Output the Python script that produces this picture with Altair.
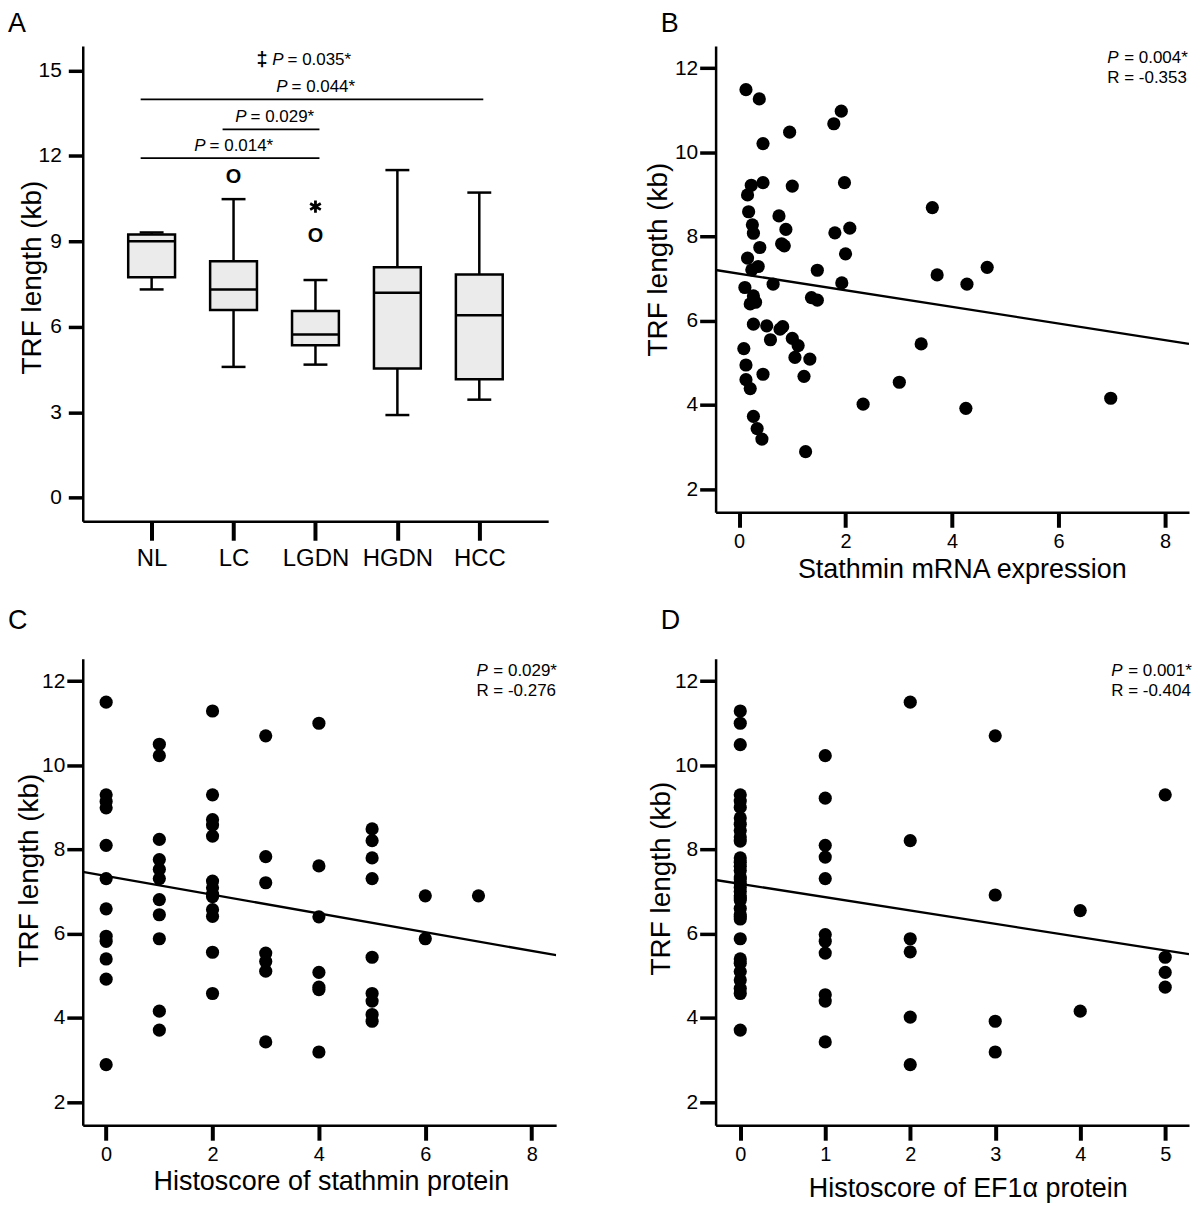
import altair as alt
import pandas as pd

FONT = "Liberation Sans"

# ---------------- Panel A : TRF length by group (box plots) ----------------
groups = ["NL", "LC", "LGDN", "HGDN", "HCC"]
whisker_low = [7.31, 4.59, 4.67, 2.90, 3.44]
box_q1 = [7.74, 6.59, 5.35, 4.53, 4.16]
box_median = [9.00, 7.31, 5.73, 7.19, 6.40]
box_q3 = [9.24, 8.30, 6.55, 8.09, 7.83]
whisker_high = [9.31, 10.48, 7.64, 11.50, 10.71]

outlier_group = ["LC", "LGDN", "LGDN"]
outlier_value = [11.29, 9.21, 10.22]
outlier_kind = ["circle", "circle", "extreme"]

sig_from = ["NL", "LC", "NL"]
sig_to = ["LGDN", "LGDN", "HCC"]
sig_level = [11.92, 12.93, 13.98]
sig_p = ["0.014*", "0.029*", "0.044*"]
overall_p = ["0.035*"]
overall_level = [15.36]

# ---------------- Panel B : stathmin mRNA vs TRF ----------------
stathmin_mrna = [0.13, 0.38, 1.92, 1.78, 0.95, 0.45, 0.16, 0.23, 0.45, 1.00, 1.98,
                 0.18, 0.75, 0.25, 0.27, 0.88, 3.63, 1.80, 2.08, 0.39, 0.80, 0.85,
                 2.00, 0.16, 0.36, 0.24, 1.47, 4.66, 3.72, 0.64, 1.93, 4.28, 0.11,
                 1.36, 1.47, 0.27, 0.31, 0.21, 0.27, 0.52, 0.59, 0.82, 0.77, 1.00,
                 1.11, 1.05, 1.33, 1.22, 0.09, 0.13, 0.13, 0.21, 0.45, 0.27, 0.34,
                 0.43, 1.25, 2.33, 3.01, 3.42, 4.26, 6.98]
trf_b = [11.49, 11.27, 10.98, 10.68, 10.48, 10.21, 8.99, 9.22, 9.28, 9.20, 9.28,
         8.59, 8.49, 8.28, 8.08, 8.17, 8.69, 8.09, 8.20, 7.74, 7.83, 7.78,
         7.59, 7.49, 7.29, 7.21, 7.20, 7.27, 7.09, 6.87, 6.90, 6.87, 6.79,
         6.55, 6.49, 6.59, 6.44, 6.40, 5.92, 5.88, 5.55, 5.86, 5.80, 5.58,
         5.41, 5.13, 5.09, 4.68, 5.34, 4.95, 4.60, 4.39, 4.73, 3.73, 3.44,
         3.19, 2.89, 4.02, 4.54, 5.45, 3.92, 4.16]

# ---------------- Panel C : stathmin histoscore vs TRF ----------------
histo_stathmin = ([0] * 12 + [1] * 11 + [2] * 13 + [3] * 7 + [4] * 7 + [5] * 9 + [6] * 2 + [7] * 1)
trf_c = [11.50, 9.30, 9.14, 8.99, 8.10, 7.31, 6.59, 5.94, 5.82, 5.40, 4.92, 2.89,
         10.50, 10.23, 8.24, 7.76, 7.53, 7.31, 6.81, 6.45, 5.88, 4.16, 3.71,
         11.29, 9.30, 8.71, 8.58, 8.32, 7.25, 7.09, 6.94, 6.88, 6.57, 6.41, 5.56, 4.58,
         10.70, 7.83, 7.21, 5.54, 5.34, 5.11, 3.43,
         11.00, 7.61, 6.40, 5.08, 4.73, 4.67, 3.19,
         8.49, 8.21, 7.80, 7.31, 5.44, 4.58, 4.40, 4.08, 3.92,
         6.90, 5.88,
         6.90]

# ---------------- Panel D : EF1a histoscore vs TRF ----------------
histo_ef1a = ([0] * 35 + [1] * 11 + [2] * 6 + [3] * 4 + [4] * 2 + [5] * 4)
trf_d = [11.29, 11.00, 10.49, 9.30, 9.15, 9.00, 8.75, 8.60, 8.45, 8.30, 8.20, 7.80,
         7.70, 7.60, 7.50, 7.35, 7.30, 7.20, 7.10, 7.00, 6.90, 6.85, 6.80, 6.60,
         6.45, 6.40, 6.35, 5.88, 5.40, 5.30, 5.10, 4.90, 4.70, 4.58, 3.71,
         10.23, 9.22, 8.10, 7.82, 7.31, 5.98, 5.82, 5.54, 4.55, 4.40, 3.43,
         11.50, 8.21, 5.88, 5.57, 4.02, 2.89,
         10.70, 6.92, 3.92, 3.19,
         6.55, 4.16,
         9.30, 5.44, 5.08, 4.73]

stats_p = ["0.004*", "0.029*", "0.001*"]
stats_r = ["-0.353", "-0.276", "-0.404"]

Y_TITLE = "TRF length (kb)"
ANN = 17  # annotation font size
ASTERISK = "M0,-1L0,1M-0.87,-0.5L0.87,0.5M-0.87,0.5L0.87,-0.5"


def text_layer(text, **kw):
    return alt.Chart(pd.DataFrame({"t": [text]})).mark_text(color="black", **kw).encode(text="t:N")


# ======================= Panel A =======================
pos_of = {g: i + 1 for i, g in enumerate(groups)}
dfA = pd.DataFrame({"group": groups, "pos": [pos_of[g] for g in groups],
                    "lo": whisker_low, "q1": box_q1, "med": box_median,
                    "q3": box_q3, "hi": whisker_high})
xA_scale = alt.Scale(domain=[0.22, 5.78], nice=False, zero=False)
yA_scale = alt.Scale(domain=[-0.83, 15.86], nice=False, zero=False)
label_expr = "[" + ",".join("'%s'" % g for g in groups) + "][datum.value - 1]"
axis_xA = alt.Axis(values=list(range(1, len(groups) + 1)), labelExpr=label_expr, title=None,
                   tickSize=19, tickWidth=4, labelFontSize=24, labelPadding=6,
                   labelFlush=False, grid=False)
axis_yA = alt.Axis(values=[0, 3, 6, 9, 12, 15], tickSize=14.5, tickWidth=3.5,
                   labelFontSize=21, labelPadding=7, labelFlush=False, title=Y_TITLE,
                   titleFontSize=28, titleX=-50, titleY=232, titleAngle=270,
                   titleBaseline="middle", titleAlign="center", grid=False)


def XA(field):
    return alt.X(field, type="quantitative", scale=xA_scale, axis=axis_xA)


def YA(field):
    return alt.Y(field, type="quantitative", scale=yA_scale, axis=axis_yA)


baseA = alt.Chart(dfA)
w_low = baseA.mark_rule(color="black", strokeWidth=2.5).encode(x=XA("pos"), y=YA("lo"), y2="q1:Q")
w_high = baseA.mark_rule(color="black", strokeWidth=2.5).encode(x=XA("pos"), y=YA("q3"), y2="hi:Q")
cap_low = baseA.mark_tick(orient="horizontal", size=24, thickness=2.5, color="black", opacity=1).encode(
    x=XA("pos"), y=YA("lo"))
cap_high = baseA.mark_tick(orient="horizontal", size=24, thickness=2.5, color="black", opacity=1).encode(
    x=XA("pos"), y=YA("hi"))
boxes = baseA.mark_bar(width=47, fill="#ebebeb", stroke="black", strokeWidth=2.5, opacity=1).encode(
    x=XA("pos"), y=YA("q1"), y2="q3:Q")
medians = baseA.mark_tick(orient="horizontal", size=47, thickness=2.5, color="black", opacity=1).encode(
    x=XA("pos"), y=YA("med"))

dfO = pd.DataFrame({"group": outlier_group, "val": outlier_value, "kind": outlier_kind})
dfO["pos"] = dfO["group"].map(pos_of)
out_circle = alt.Chart(dfO).transform_filter("datum.kind == 'circle'").mark_text(
    text="O", fontSize=20, fontWeight="bold", baseline="middle", dy=1, color="black").encode(
    x=XA("pos"), y=YA("val"))
out_extreme = alt.Chart(dfO).transform_filter("datum.kind == 'extreme'").mark_point(
    shape=ASTERISK, size=150, filled=False, stroke="black", strokeWidth=2.8, opacity=1).encode(
    x=XA("pos"), y=YA("val"))

dfS = pd.DataFrame({"from": sig_from, "to": sig_to, "level": sig_level, "p": sig_p})
dfS["x1"] = dfS["from"].map(pos_of)
dfS["x2"] = dfS["to"].map(pos_of)
dfS["mid"] = (dfS["x1"] + dfS["x2"]) / 2
dfS["rest"] = "= " + dfS["p"]
sig_lines = alt.Chart(dfS).mark_rule(color="black", strokeWidth=1.8, xOffset=-11, x2Offset=4).encode(
    x=XA("x1"), x2="x2:Q", y=YA("level"))
sig_P = alt.Chart(dfS).mark_text(text="P", fontStyle="italic", fontSize=ANN, align="right",
                                 baseline="middle", dx=-28, dy=-12, color="black").encode(
    x=XA("mid"), y=YA("level"))
sig_rest = alt.Chart(dfS).mark_text(fontSize=ANN, align="left", baseline="middle", dx=-24, dy=-12,
                                    color="black").encode(x=XA("mid"), y=YA("level"), text="rest:N")

dfK = pd.DataFrame({"level": overall_level, "p": overall_p})
dfK["mid"] = (1 + len(groups)) / 2
dfK["rest"] = "= " + dfK["p"]
k_dag = alt.Chart(dfK).mark_text(text="‡", fontWeight="bold", fontSize=20, align="right",
                                 baseline="middle", dx=-48, color="black").encode(x=XA("mid"), y=YA("level"))
k_P = alt.Chart(dfK).mark_text(text="P", fontStyle="italic", fontSize=ANN, align="right",
                               baseline="middle", dx=-32, color="black").encode(x=XA("mid"), y=YA("level"))
k_rest = alt.Chart(dfK).mark_text(fontSize=ANN, align="left", baseline="middle", dx=-28,
                                  color="black").encode(x=XA("mid"), y=YA("level"), text="rest:N")

letterA = text_layer("A", fontSize=27, align="left", baseline="top", x=-75, y=-35)

panelA = alt.layer(w_low, w_high, cap_low, cap_high, boxes, medians, out_circle, out_extreme,
                   sig_lines, sig_P, sig_rest, k_dag, k_P, k_rest, letterA).properties(width=467, height=477)

# ======================= Scatter panels =======================
Y_DOM = [1.45, 12.53]


def scatter_panel(xs, ys, xdom, xticks, xtitle, p, r, letter, letter_x, letter_y,
                  xtitle_x, xtitle_y, ytitle_x, ytitle_y, stat_x):
    df = pd.DataFrame({"x": xs, "y": ys})
    xs_ = alt.Scale(domain=xdom, nice=False, zero=False)
    ys_ = alt.Scale(domain=Y_DOM, nice=False, zero=False)
    ax = alt.Axis(values=xticks, title=xtitle, tickSize=15, tickWidth=4, labelFontSize=20,
                  labelPadding=4, labelFlush=False, titleFontSize=27, titleX=xtitle_x,
                  titleY=xtitle_y, titleBaseline="middle", titleAlign="center", grid=False)
    ay = alt.Axis(values=[2, 4, 6, 8, 10, 12], tickSize=16, tickWidth=3.5, labelFontSize=21,
                  labelPadding=2, labelFlush=False, title=Y_TITLE, titleFontSize=28,
                  titleX=ytitle_x, titleY=ytitle_y, titleAngle=270, titleBaseline="middle",
                  titleAlign="center", grid=False)
    X = alt.X("x:Q", scale=xs_, axis=ax)
    Y = alt.Y("y:Q", scale=ys_, axis=ay)
    pts = alt.Chart(df).mark_circle(size=175, color="black", opacity=1).encode(x=X, y=Y)
    reg = alt.Chart(df).transform_regression("x", "y", extent=xdom).mark_line(
        color="black", strokeWidth=2.3, clip=True).encode(x=X, y=Y)
    tP = text_layer("P", fontSize=ANN, fontStyle="italic", align="left", baseline="middle",
                    x=stat_x, y=12)
    tPrest = text_layer("= " + p, fontSize=ANN, align="left", baseline="middle", x=stat_x + 17, y=12)
    tR = text_layer("R = " + r, fontSize=ANN, align="left", baseline="middle", x=stat_x, y=32)
    tL = text_layer(letter, fontSize=27, align="left", baseline="top", x=letter_x, y=letter_y)
    return alt.layer(reg, pts, tP, tPrest, tR, tL).properties(width=475, height=468)


panelB = scatter_panel(stathmin_mrna, trf_b, [-0.44, 8.45], [0, 2, 4, 6, 8],
                       "Stathmin mRNA expression", stats_p[0], stats_r[0], "B", -55, -35,
                       247, 57, -57, 214, 393)
panelC = scatter_panel(histo_stathmin, trf_c, [-0.44, 8.46], [0, 2, 4, 6, 8],
                       "Histoscore of stathmin protein", stats_p[1], stats_r[1], "C", -75, -51,
                       249, 56, -53, 212, 395)
panelD = scatter_panel(histo_ef1a, trf_d, [-0.29, 5.28], [0, 1, 2, 3, 4, 5],
                       "Histoscore of EF1α protein", stats_p[2], stats_r[2], "D", -55, -51,
                       253, 63, -54, 220, 397)

chart = alt.concat(panelA, panelB, panelC, panelD, columns=2,
                   spacing={"row": 138, "column": 160}, bounds="flush", align="all").properties(
    padding=0
).configure(font=FONT).configure_view(strokeWidth=0).configure_axis(
    domainColor="black", domainWidth=2.5, tickColor="black", labelColor="black",
    titleColor="black", titleFontWeight="normal", labelFont=FONT, titleFont=FONT
).configure_text(font=FONT)

chart.save("out.html", embed_options={"renderer": "svg", "actions": False})
